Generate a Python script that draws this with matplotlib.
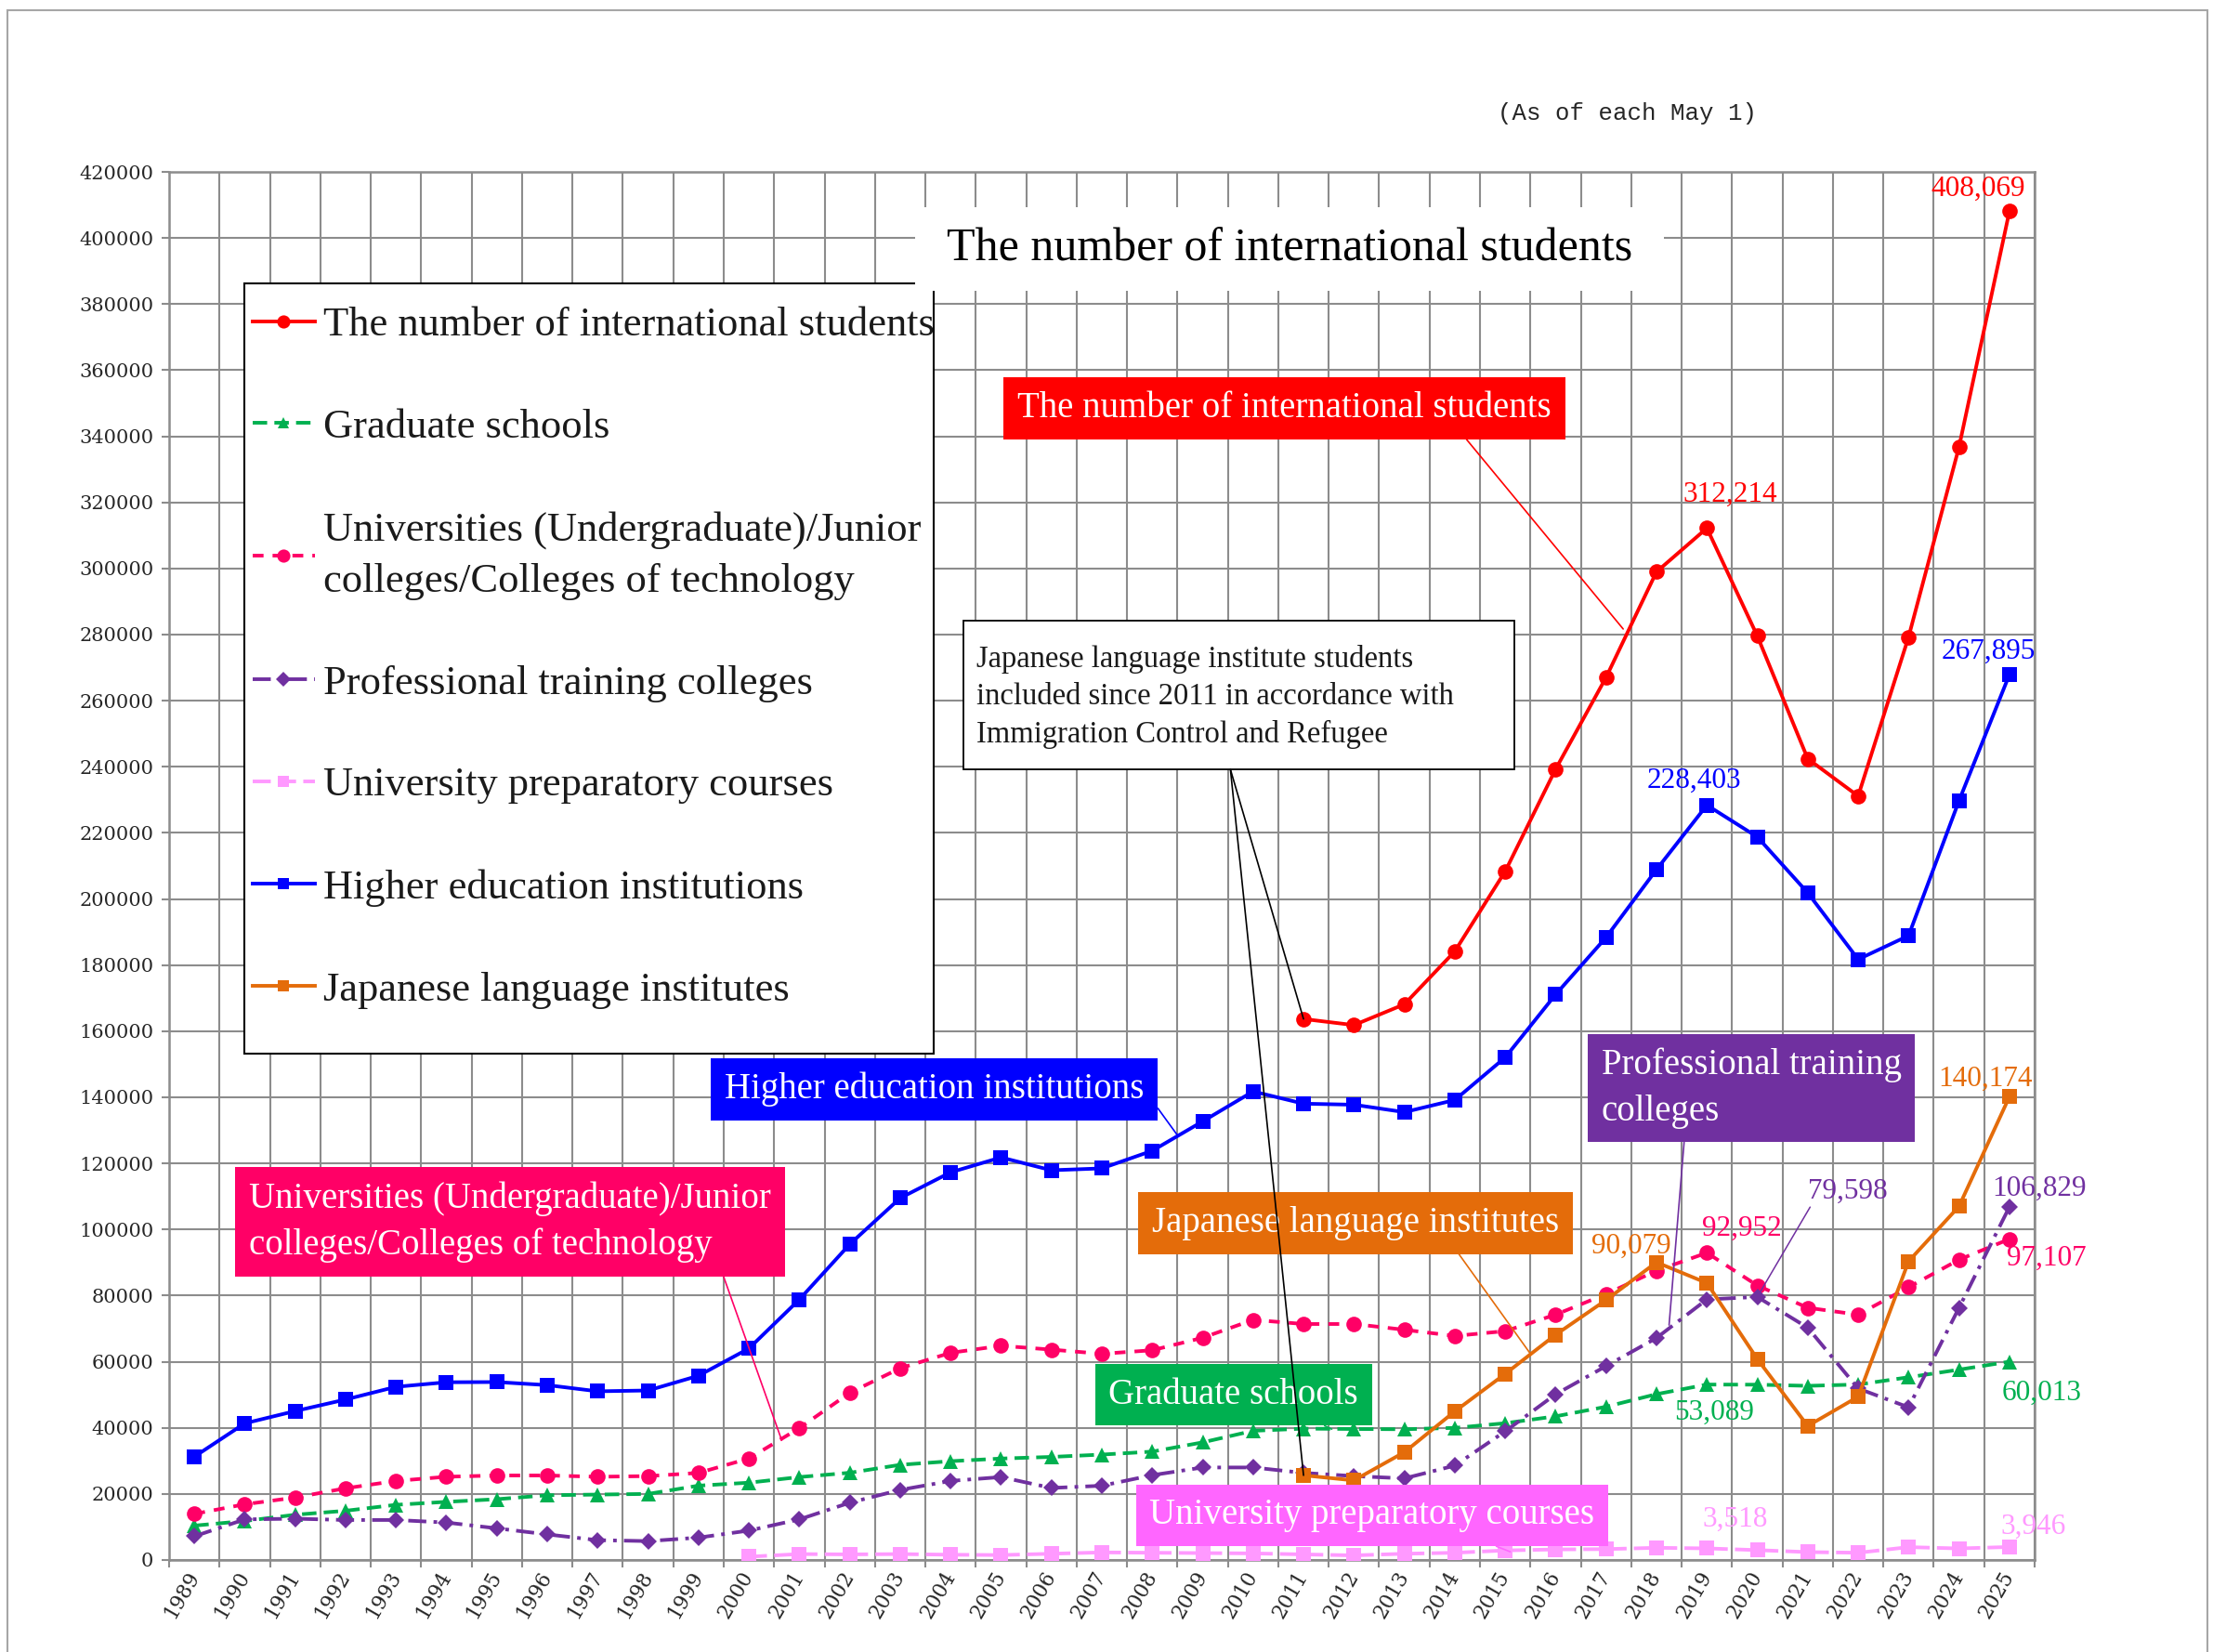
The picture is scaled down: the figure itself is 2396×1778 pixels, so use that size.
import numpy as np
import matplotlib
matplotlib.use("Agg")
import matplotlib.pyplot as plt
from matplotlib.patches import Rectangle

plt.rcParams['font.family'] = ['Liberation Serif', 'DejaVu Serif']

nan = np.nan
years = [str(y) for y in range(1989, 2026)]

# number of international students (as of each May 1)
total = [nan] * 22 + [163697, 161848, 168145, 184155, 208379, 239287, 267042, 298980,
                      312214, 279597, 242444, 231146, 279274, 336708, 408069]
graduate = [10400, 11800, 13700, 14900, 16700, 17600, 18400, 19600, 19800, 20000, 22500, 23400,
            25100, 26400, 28800, 29900, 30700, 31200, 31900, 32800, 35600, 39097,
            39749, 39641, 39567, 39979, 41396, 43478, 46373, 50184, 53089, 53056, 52700,
            53100, 55300, 57600, 60013]
univ = [13950, 16860, 18900, 21700, 23930, 25190, 25580, 25580, 25190, 25390, 26360, 30720,
        39900, 50580, 58040, 62690, 64820, 63660, 62400, 63470, 67250, 72670,
        71410, 71410, 69670, 67800, 69260, 74240, 80470, 87540, 92952, 83070, 76320,
        74240, 82550, 90860, 97107]
professional = [7170, 12300, 12500, 12110, 12110, 11340, 9590, 7750, 6010, 5720, 6780, 8910,
                12300, 17340, 21220, 23930, 25100, 21800, 22480, 25680, 28000, 28000,
                26360, 25390, 24700, 28560, 38940, 50150, 58670, 67180, 78844, 79598, 70300,
                51900, 46200, 76300, 106829]
prep = [nan] * 11 + [1000, 1800, 1700, 1800, 1600, 1500, 1900, 2300, 2200, 2100, 2000,
                     1700, 1400, 1900, 2200, 2900, 3200, 3300, 3700, 3518, 3000, 2400,
                     2200, 3900, 3500, 3946]
higher = [31251, 41347, 45066, 48561, 52405, 53787, 53847, 52921, 51047, 51298, 55755, 64011,
          78812, 95550, 109508, 117302, 121812, 117927, 118498, 123829, 132720, 141774,
          138075, 137756, 135519, 139185, 152062, 171122, 188384, 208901, 228403, 218783,
          201877, 181741, 188905, 229708, 267895]
jli = [nan] * 22 + [25622, 24092, 32626, 44970, 56317, 68165, 78658, 90079, 83811, 60814,
                    40567, 49405, 90369, 107000, 140174]

RED = '#FF0000'
GREEN = '#00B050'
PINK = '#FF0066'
PURPLE = '#7030A0'
LPINK = '#FF99FF'
MAGENTA = '#FF66FF'
BLUE = '#0000FF'
ORANGE = '#E46C0A'
GRID = '#8c8c8c'

W, H = 2396, 1778
fig = plt.figure(figsize=(W / 100, H / 100), dpi=100)
ax = fig.add_axes([182 / W, 1 - 1679 / H, (2190 - 182) / W, (1679 - 185) / H])
x = np.arange(len(years))

series = [
    ('The number of international students', total, RED, 'o', '-', 12),
    ('Graduate schools', graduate, GREEN, '^', (0, (4, 2)), 11),
    ('Universities (Undergraduate)/Junior\ncolleges/Colleges of technology', univ, PINK, 'o', (0, (3, 2.5)), 12),
    ('Professional training colleges', professional, PURPLE, 'D', (0, (5, 2, 1, 2)), 9),
    ('University preparatory courses', prep, LPINK, 's', (0, (5, 2)), 11),
    ('Higher education institutions', higher, BLUE, 's', '-', 11),
    ('Japanese language institutes', jli, ORANGE, 's', '-', 11),
]
for label, vals, color, marker, ls, ms in series:
    ax.plot(x, vals, color=color, marker=marker, ls=ls, lw=2.8, ms=ms,
            markeredgewidth=0, label=label, zorder=3)

ax.set_xlim(-0.5, len(years) - 0.5)
ax.set_ylim(0, 420000)
ax.set_yticks(np.arange(0, 420001, 20000),
              labels=[str(v) for v in range(0, 420001, 20000)],
              fontsize=15, fontfamily='DejaVu Serif', color='#262626')
ax.set_xticks(np.arange(-0.5, len(years), 1), labels=[])
ax.set_xticks(x, labels=years, minor=True, rotation=60, ha='right', va='center',
              rotation_mode='anchor', fontsize=15.5, fontfamily='DejaVu Serif', color='#262626')
ax.tick_params(axis='y', length=6, color=GRID, width=1.5, pad=6)
ax.tick_params(axis='x', which='major', length=6, color=GRID, width=1.5)
ax.tick_params(axis='x', which='minor', length=0, pad=10)
ax.grid(True, which='major', color=GRID, lw=1.5, zorder=0)
ax.set_axisbelow(True)
for sp in ax.spines.values():
    sp.set_color(GRID)
    sp.set_linewidth(1.8)

# outer frame
fig.add_artist(Rectangle((7.5 / W, -0.05), (2376 - 7.5) / W, 1.05 - 10.5 / H,
                         transform=fig.transFigure, fill=False, ec='#a6a6a6', lw=1.5))

# legend with its own frame
ax.add_patch(Rectangle((263 / W, 1 - 1134 / H), (1005 - 263) / W, (1134 - 305) / H,
                       transform=fig.transFigure, fc='white', ec='black', lw=1.5,
                       zorder=4.5, clip_on=False))
leg = ax.legend(loc='upper left', bbox_to_anchor=(272 / W, 1 - 330 / H),
                bbox_transform=fig.transFigure, frameon=False, fontsize=32,
                handlelength=1.5, handletextpad=0.2, labelspacing=1.57,
                borderpad=0, borderaxespad=0, markerscale=0.85)
leg.set_zorder(5)
for t in leg.get_texts():
    t.set_color('#1a1a1a')
    t.set_linespacing(1.48)

# title box (drawn over the grid and the legend corner)
fig.add_artist(Rectangle((985 / W, 1 - 313 / H), (1791 - 985) / W, 90 / H,
                         transform=fig.transFigure, fc='white', ec='none', zorder=2.5))
fig.text(1388 / W, 1 - 268 / H, 'The number of international students',
         ha='center', va='center', fontsize=36, zorder=3)
fig.text(1612 / W, 1 - 122 / H, '(As of each May 1)', ha='left', va='center',
         fontsize=18.5, fontfamily='Liberation Mono', color='#262626')


def callout(text, xy, xytext, color, relpos, fs=28):
    ax.annotate(text, xy=xy, xytext=xytext, ha='center', va='center',
                multialignment='left', color='white', fontsize=fs, linespacing=1.45,
                bbox=dict(boxstyle='square,pad=0.38', fc=color, ec='none'),
                arrowprops=dict(arrowstyle='-', color=color, lw=1.2,
                                relpos=relpos, shrinkA=0, shrinkB=0),
                zorder=4)


callout('The number of international students', (28.34, 281700), (21.62, 348400), RED, (0.82, 0))
callout('Higher education institutions', (19.5, 128500), (14.68, 142400), BLUE, (1, 0.5))
callout('Universities (Undergraduate)/Junior\ncolleges/Colleges of technology',
        (11.65, 36260), (6.26, 102300), PINK, (0.9, 0))
callout('Japanese language institutes', (26.5, 62400), (23.03, 101900), ORANGE, (0.73, 0))
callout('Professional training\ncolleges', (29.25, 71100), (30.88, 142800), PURPLE, (0.28, 0))
callout('Graduate schools', (22.56, 39600), (20.61, 50000), GREEN, (0.75, 0))
callout('University preparatory courses', (26.1, 2500), (23.36, 13500), MAGENTA, (0.7, 0))

# note box and its two leaders to 2011
ax.add_patch(Rectangle((15.26, 239200), 26.19 - 15.26, 284200 - 239200,
                       fc='white', ec='black', lw=1.3, zorder=4))
ax.text(15.52, 261100, 'Japanese language institute students\n'
        'included since 2011 in accordance with\nImmigration Control and Refugee',
        ha='left', va='center', fontsize=23.5, color='#1a1a1a', linespacing=1.42, zorder=4.1)
for vals in (total, jli):
    ax.annotate('', xy=(22, vals[22]), xytext=(20.55, 239200),
                arrowprops=dict(arrowstyle='-', color='black', lw=1.2, shrinkA=0, shrinkB=0),
                zorder=4)


def value_label(i, vals, color, dx, dy, **kw):
    ax.annotate(f'{vals[i]:,.0f}', xy=(i, vals[i]), xytext=(dx, dy),
                textcoords='offset pixels', ha='center', va='center',
                color=color, fontsize=22.5, zorder=4, **kw)


value_label(36, total, RED, -34, 24)
value_label(30, total, RED, 25, 36)
value_label(36, higher, BLUE, -23, 25)
value_label(30, higher, BLUE, -14, 26)
value_label(36, jli, ORANGE, -26, 19)
value_label(29, jli, ORANGE, -27, 17)
value_label(36, professional, PURPLE, 32, 20)
value_label(31, professional, PURPLE, 97, 114,
            arrowprops=dict(arrowstyle='-', color=PURPLE, lw=1.1, relpos=(0.05, 0),
                            shrinkA=0, shrinkB=4))
value_label(36, univ, PINK, 40, -21)
value_label(30, univ, PINK, 38, 26)
value_label(30, graduate, GREEN, 8, -30)
value_label(36, graduate, GREEN, 35, -34)
value_label(30, prep, LPINK, 30, 31)
value_label(36, prep, LPINK, 26, 22)

fig.savefig('out.png', dpi=100)
